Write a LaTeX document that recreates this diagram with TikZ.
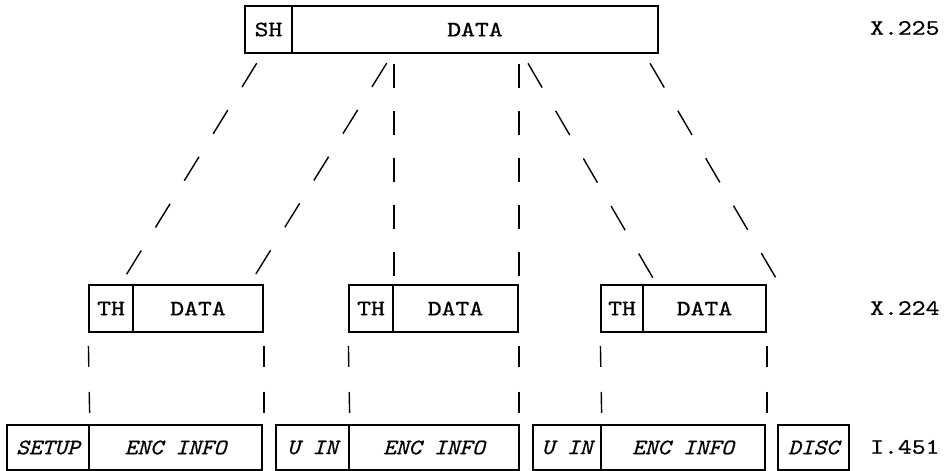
\documentclass[tikz,border=0pt]{standalone}
\usepackage{fontspec}
\setmonofont{lmmono10-regular.otf}[ItalicFont=lmmono10-italic.otf,FakeBold=0.8,UprightFeatures={FakeStretch=1.2},ItalicFeatures={FakeStretch=1.1}]
\newcommand{\reffont}{\fontsize{22}{24}\selectfont\ttfamily}
\begin{document}
\begin{tikzpicture}[x=1pt,y=-1pt,
  box/.style={draw,line width=1.6pt,inner sep=0pt,font=\reffont},
  ibox/.style={box,font=\reffont\itshape},
  lbl/.style={anchor=west,inner sep=0pt,font=\reffont},
  vdash/.style={line width=1.4pt,dash pattern=on 24pt off 23pt,dash phase=37pt},
  sdash/.style={line width=1.4pt,dash pattern=on 28pt off 27pt,dash phase=43pt},
  ldash/.style={line width=1.4pt,dash pattern=on 21pt off 25pt,dash phase=33pt}]
\useasboundingbox (0,0) rectangle (945,471);
% top row X.225
\node[box,minimum width=47pt,minimum height=47pt] (sh) at (268.5,29.5) {SH};
\node[box,minimum width=366pt,minimum height=47pt] (tdata) at (475,29.5) {DATA};
\node[lbl] (l225) at (870,28) {X.225};
% middle row X.224
\node[box,minimum width=44pt,minimum height=47pt] (th1) at (111,308.5) {TH};
\node[box,minimum width=130pt,minimum height=47pt] (d1) at (198,308.5) {DATA};
\node[box,minimum width=44pt,minimum height=47pt] (th2) at (371,308.5) {TH};
\node[box,minimum width=125pt,minimum height=47pt] (d2) at (455.5,308.5) {DATA};
\node[box,minimum width=42pt,minimum height=47pt] (th3) at (622,308.5) {TH};
\node[box,minimum width=123pt,minimum height=47pt] (d3) at (704.5,308.5) {DATA};
\node[lbl] (l224) at (870,308) {X.224};
% bottom row I.451
\node[ibox,minimum width=82pt,minimum height=45pt] (setup) at (48,447.5) {SETUP};
\node[ibox,minimum width=173pt,minimum height=45pt] (enc1) at (175.5,447.5) {ENC INFO};
\node[ibox,minimum width=73pt,minimum height=45pt] (uin1) at (312.5,447.5) {U IN};
\node[ibox,minimum width=170pt,minimum height=45pt] (enc2) at (434,447.5) {ENC INFO};
\node[ibox,minimum width=68pt,minimum height=45pt] (uin2) at (567,447.5) {U IN};
\node[ibox,minimum width=164pt,minimum height=45pt] (enc3) at (683,447.5) {ENC INFO};
\node[ibox,minimum width=71pt,minimum height=45pt] (disc) at (813.5,447.5) {DISC};
\node[lbl] (l451) at (870,447) {I.451};
% fan-out coordinates
\coordinate (s1t) at (263,53);
\coordinate (s1b) at (120,285);
\coordinate (s2t) at (393,53);
\coordinate (s2b) at (249,285);
\coordinate (s3t) at (522,53);
\coordinate (s3b) at (657,285);
\coordinate (s4t) at (644,53);
\coordinate (s4b) at (780,285);
% X.225 -> X.224
\draw[sdash] (s1t) -- (s1b);
\draw[sdash] (s2t) -- (s2b);
\draw[vdash] (th2.north east |- tdata.south) -- (th2.north east);
\draw[vdash] (d2.north east |- tdata.south) -- (d2.north east);
\draw[sdash] (s3t) -- (s3b);
\draw[sdash] (s4t) -- (s4b);
% X.224 -> I.451
\draw[ldash] (th1.south west) -- (setup.north east);
\draw[ldash] (d1.south east) -- (d1.south east |- enc1.north);
\draw[ldash] (th2.south west) -- (uin1.north east);
\draw[ldash] (d2.south east) -- (d2.south east |- enc2.north);
\draw[ldash] (th3.south west) -- (uin2.north east);
\draw[ldash] (d3.south east) -- (d3.south east |- enc3.north);
\end{tikzpicture}
\end{document}
